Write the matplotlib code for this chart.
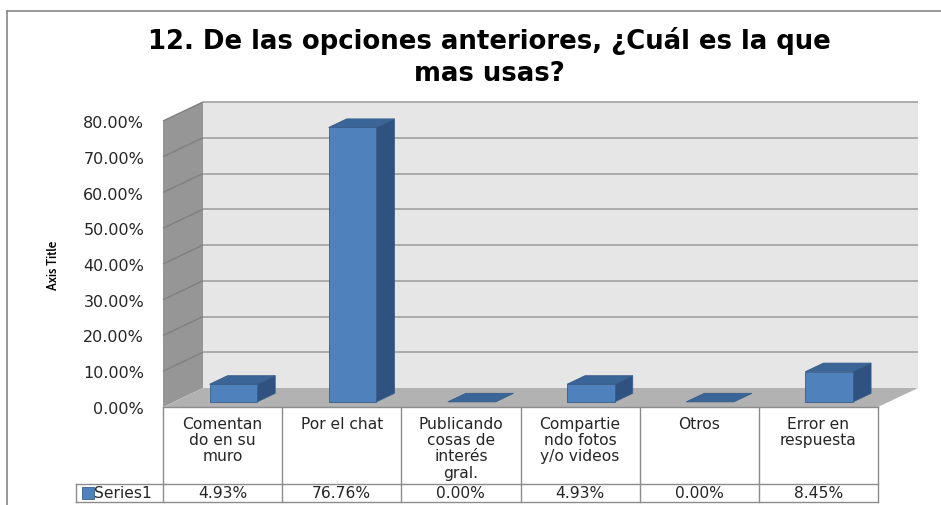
import matplotlib
matplotlib.use("Agg")
import numpy as np
import matplotlib.pyplot as plt
from matplotlib.patches import Polygon
from matplotlib.ticker import PercentFormatter

# data
categories = [
    "Comentan\ndo en su\nmuro",
    "Por el chat",
    "Publicando\ncosas de\ninterés\ngral.",
    "Compartie\nndo fotos\ny/o videos",
    "Otros",
    "Error en\nrespuesta",
]
values = [0.0493, 0.7676, 0.0000, 0.0493, 0.0000, 0.0845]
series_name = "Series1"
y_ticks = [0.0, 0.1, 0.2, 0.3, 0.4, 0.5, 0.6, 0.7, 0.8]
title = "12. De las opciones anteriores, ¿Cuál es la que\nmas usas?"

W, H = 941, 506
DEPTH = np.array([40.0, 19.0])      # px offset of the back wall
BAR_D0, BAR_D1 = 0.27, 0.72         # bar depth range (fraction)
BAR_W = 0.4

FRONT, TOP, SIDE, EDGE = "#4f81bd", "#3b6497", "#2f5280", "#385d8a"
TEXT = "#262626"
LINE = "#8c8c8c"
NARROW = ["Cabin Condensed", "DejaVu Sans"]

fig = plt.figure(figsize=(W / 100, H / 100), dpi=100)
ax = fig.add_axes([163 / W, 1 - 408 / H, 715 / W, 286 / H])
n = len(categories)
ax.set_xlim(0, n)
ax.set_ylim(0, y_ticks[-1])


def proj(x, y, d):
    p = ax.transData.transform((x, y)) + d * DEPTH
    return ax.transData.inverted().transform(p)


def face(pts, **kw):
    ax.add_patch(Polygon([proj(*p) for p in pts], closed=True, clip_on=False, **kw))


def seg(p0, p1, **kw):
    a, b = proj(*p0), proj(*p1)
    ax.plot([a[0], b[0]], [a[1], b[1]], clip_on=False, solid_capstyle="butt", **kw)


top = y_ticks[-1]
# walls and floor
face([(0, 0, 1), (n, 0, 1), (n, top, 1), (0, top, 1)], facecolor="#e6e6e6", edgecolor="none", zorder=1)
face([(0, 0, 0), (0, top, 0), (0, top, 1), (0, 0, 1)], facecolor="#969696", edgecolor="none", zorder=1)
face([(0, 0, 0), (n, 0, 0), (n, 0, 1), (0, 0, 1)], facecolor="#b2b2b2", edgecolor="none", zorder=2)

for v in y_ticks[1:]:
    seg((0, v, 1), (n, v, 1), color="#a6a6a6", lw=1.3, zorder=1.5)
    seg((0, v, 0), (0, v, 1), color="#808080", lw=1.0, zorder=1.5)

# 3d columns
for i, v in enumerate(values):
    x0, x1 = i + 0.5 - BAR_W / 2, i + 0.5 + BAR_W / 2
    if v <= 0:
        face([(x0, 0, BAR_D0), (x1, 0, BAR_D0), (x1, 0, BAR_D1), (x0, 0, BAR_D1)],
             facecolor=TOP, edgecolor=EDGE, lw=0.6, zorder=3)
        continue
    face([(x1, 0, BAR_D0), (x1, v, BAR_D0), (x1, v, BAR_D1), (x1, 0, BAR_D1)],
         facecolor=SIDE, edgecolor=EDGE, lw=0.6, zorder=3)
    face([(x0, v, BAR_D0), (x1, v, BAR_D0), (x1, v, BAR_D1), (x0, v, BAR_D1)],
         facecolor=TOP, edgecolor=EDGE, lw=0.6, zorder=3)
    face([(x0, 0, BAR_D0), (x1, 0, BAR_D0), (x1, v, BAR_D0), (x0, v, BAR_D0)],
         facecolor=FRONT, edgecolor=EDGE, lw=0.6, zorder=3)

# axis styling
for s in ax.spines.values():
    s.set_visible(False)
ax.patch.set_visible(False)
ax.set_xticks([])
ax.set_yticks(y_ticks)
ax.yaxis.set_major_formatter(PercentFormatter(1.0, decimals=2))
ax.tick_params(axis="y", length=0, pad=13.5, labelsize=11.5, labelcolor=TEXT)
ax.set_ylabel("Axis Title", family=NARROW, fontsize=10.5, fontweight="medium",
              labelpad=17, color="black")

# data table under the floor
hpx = ax.get_window_extent().height
cw = ax.get_window_extent().width / n
xt = ax.get_xaxis_transform()
r1, r2 = -77 / hpx, -95 / hpx
key_left = -87 / cw

for i in range(n + 1):
    ax.plot([i, i], [0, r2], color=LINE, lw=1, transform=xt, clip_on=False)
ax.plot([0, n], [0, 0], color=LINE, lw=1, transform=xt, clip_on=False)
ax.plot([key_left, n], [r1, r1], color=LINE, lw=1, transform=xt, clip_on=False)
ax.plot([key_left, n], [r2, r2], color=LINE, lw=1, transform=xt, clip_on=False)
ax.plot([key_left, key_left], [r1, r2], color=LINE, lw=1, transform=xt, clip_on=False)

for i, (c, v) in enumerate(zip(categories, values)):
    ax.text(i + 0.5, -9 / hpx, c, transform=xt, ha="center", va="top",
            fontsize=11.2, color=TEXT, linespacing=1.1)
    ax.text(i + 0.5, (r1 + r2) / 2, f"{v:.2%}", transform=xt, ha="center",
            va="center", fontsize=11.2, color=TEXT)

ax.plot([key_left + 11.5 / cw], [(r1 + r2) / 2], marker="s", ms=8, color=FRONT,
        mec=EDGE, mew=0.6, transform=xt, clip_on=False)
ax.text(key_left + 18 / cw, (r1 + r2) / 2, series_name, transform=xt, ha="left",
        va="center", fontsize=11.2, color=TEXT)

# chart title and outer border
fig.text(489 / W, 1 - 57 / H, title, ha="center", va="center", fontsize=18.7,
         fontweight="bold", family="DejaVu Sans", linespacing=1.33, color="black")
fig.add_artist(plt.Line2D([7 / W, 1], [1 - 12 / H, 1 - 12 / H], color="#868686", lw=1.2))
fig.add_artist(plt.Line2D([7 / W, 7 / W], [0, 1 - 12 / H], color="#868686", lw=1.2))

fig.savefig("out.png", dpi=100, facecolor="white")
